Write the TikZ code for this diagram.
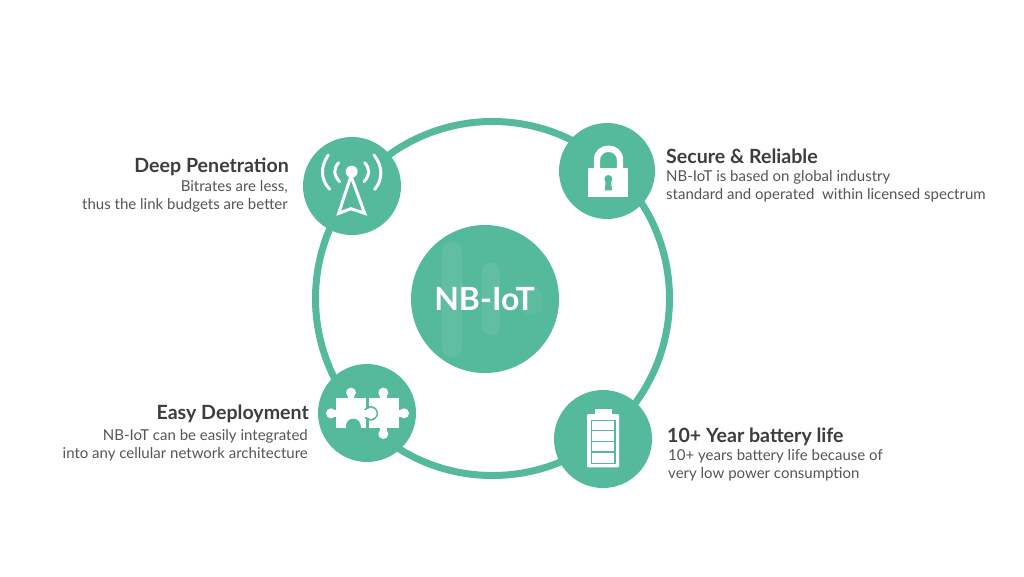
\documentclass[tikz,border=0pt]{standalone}
\usepackage{fontspec}
\setmainfont{Lato}
\definecolor{teal1}{HTML}{55B99B}
\definecolor{head}{HTML}{3D3D3D}
\definecolor{body}{HTML}{555555}
\tikzset{
  hub/.style={circle,fill=teal1,inner sep=0pt,minimum size=#1},
  title/.style={font=\fontsize{19.6}{22}\selectfont\bfseries,text=head,inner sep=0pt},
  desc/.style={font=\fontsize{15}{18}\selectfont,text=body,inner sep=0pt},
  wave/.style={line width=3pt,draw=white,line cap=round},
  zoomA/.style={shift={(#1)},x=0.3333pt,y=-0.3333pt}
}
\begin{document}
\begin{tikzpicture}[x=1pt,y=-1pt]
\useasboundingbox[fill=white] (0,0) rectangle (1024,576);
\node[circle,draw=teal1,line width=7pt,minimum size=354pt,inner sep=0pt] (ring) at (492.5,298.5) {};
\node[hub=148pt] (center) at (485,299) {};
\fill[white,opacity=.08,rounded corners=9.5pt] (442,242) rectangle (462,357);
\fill[white,opacity=.08,rounded corners=8.5pt] (482,263) rectangle (500,335);
\fill[white,opacity=.05,rounded corners=9pt] (520,287) rectangle (542,315);
\node[font=\fontsize{32}{36}\selectfont\bfseries,text=white,inner sep=0pt] (nb) at (484.5,299.5) {NB-IoT};
\node[hub=98pt] (tl) at (352,186) {};
\node[hub=96pt] (tr) at (607,171) {};
\node[hub=98pt] (bl) at (367,413) {};
\node[hub=98pt] (br) at (603,439) {};
% antenna
\begin{scope}[zoomA={290,120}]
\fill[white] (185,155) circle (18);
\draw[white,line width=3pt,line join=miter] (183,168) -- (146,280) -- (183,266) -- (224,280) -- cycle;
\draw[wave] (146,128) .. controls (130,145) and (130,165) .. (149,185);
\draw[wave] (115,105) .. controls (90,140) and (92,180) .. (119,208);
\draw[wave] (224,128) .. controls (240,145) and (240,165) .. (222,185);
\draw[wave] (252,105) .. controls (280,140) and (278,180) .. (254,208);
\end{scope}
% lock
\begin{scope}[zoomA={550,115}]
\fill[white] (115,158) rectangle (234,246);
\draw[white,line width=6.4pt] (141,160) -- (141,135) .. controls (141,90) and (210,90) .. (210,135) -- (210,160);
\fill[teal1] (175,192) circle (12);
\fill[teal1] (168,192) -- (182,192) -- (186,226) -- (164,226) -- cycle;
\end{scope}
% puzzle
\begin{scope}[zoomA={310,355}]
\fill[white] (78,130) rectangle (168,218);
\fill[white] (123,113) circle (15);
\fill[white] (113,113) rectangle (133,132);
\fill[white] (63,175) circle (15);
\fill[white] (63,165) rectangle (80,185);
\fill[teal1] (130,213) circle (22);
\fill[teal1] (108,213) rectangle (152,222);
\fill[white] (178,128) rectangle (268,218);
\fill[white] (220,113) circle (15);
\fill[white] (210,113) rectangle (230,130);
\fill[white] (282,175) circle (15);
\fill[white] (266,165) rectangle (282,185);
\fill[white] (220,237) circle (15);
\fill[white] (210,216) rectangle (230,237);
\fill[teal1] (172,128) rectangle (178,220);
\fill[teal1] (182,175) circle (22);
\fill[white] (183,175) circle (17);
\fill[white] (160,165) rectangle (178,185);
\end{scope}
% battery
\begin{scope}[zoomA={545,380}]
\fill[white,rounded corners=1pt] (126,102) rectangle (222,262);
\fill[white] (150,87) rectangle (200,103);
\draw[teal1,line width=1.4pt] (139,121) rectangle (210,250);
\draw[teal1,line width=1.4pt] (139,152) -- (210,152) (139,184) -- (210,184) (139,216) -- (210,216);
\end{scope}
\node[title,anchor=east] (t1) at (289,167) {Deep Penetration};
\node[desc,anchor=east] (d1a) at (288,187) {Bitrates are less,};
\node[desc,anchor=east] (d1b) at (288,205) {thus the link budgets are better};
\node[title,anchor=west] (t2) at (666,156) {Secure \& Reliable};
\node[desc,anchor=west] (d2a) at (666,177.5) {NB-IoT is based on global industry};
\node[desc,anchor=west] (d2b) at (666,195.5) {standard and operated\ \ within licensed spectrum};
\node[title,anchor=east] (t3) at (309,414) {Easy Deployment};
\node[desc,anchor=east] (d3a) at (308,436) {NB-IoT can be easily integrated};
\node[desc,anchor=east] (d3b) at (308,454) {into any cellular network architecture};
\node[title,anchor=west] (t4) at (667,437) {10+ Year battery life};
\node[desc,anchor=west] (d4a) at (668,456.5) {10+ years battery life because of};
\node[desc,anchor=west] (d4b) at (668,474.5) {very low power consumption};
\end{tikzpicture}
\end{document}
